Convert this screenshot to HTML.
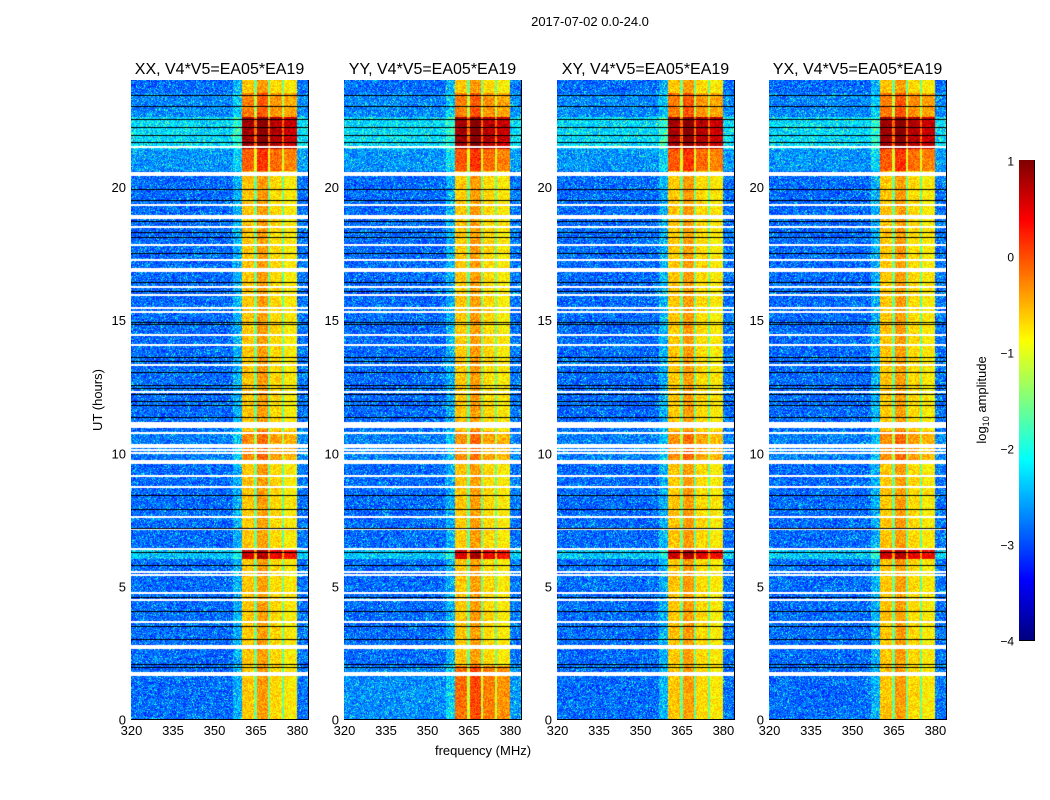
<!DOCTYPE html>
<html><head><meta charset="utf-8">
<style>
body{margin:0;background:#fff;font-family:"Liberation Sans",sans-serif;}
#root{position:relative;width:1050px;height:800px;overflow:hidden;background:#fff;}
.t{position:absolute;font-size:13px;color:#000;white-space:nowrap;}
canvas{position:absolute;}
</style></head><body>
<div id="root">
<div class="t" style="left:0;width:1180px;text-align:center;top:14px;">2017-07-02 0.0-24.0</div>
<svg id="ax" width="1050" height="800" style="position:absolute;left:0;top:0"></svg>
</div>
<script>
// ---- data ----
const panelTitles = ["XX, V4*V5=EA05*EA19","YY, V4*V5=EA05*EA19","XY, V4*V5=EA05*EA19","YX, V4*V5=EA05*EA19"];
const xTicks = [320,335,350,365,380];
const yTicks = [0,5,10,15,20];
const cbTicks = [1,0,-1,-2,-3,-4];
const freqEdges = [320,357,360,365,370,375,380,384];      // frequency segments
const freqLevels = [-2.85,-2.5,-0.6,-0.4,-0.7,-0.8,-2.8]; // log10 amp per segment
const subbandGaps = [365,370,375];
const whiteHours = [21.48,20.47,19.31,18.85,18.48,17.80,17.24,16.86,16.23,15.92,15.44,15.29,14.42,14.05,13.30,12.28,11.12,11.04,10.97,10.74,10.29,10.22,10.10,9.99,9.65,9.13,8.71,7.59,7.14,6.38,5.52,5.41,4.73,4.47,3.64,2.70,1.73,1.65];
const whiteWidths = [0.04,0.12,0.04,0.12,0.04,0.04,0.04,0.12,0.04,0.04,0.04,0.04,0.04,0.04,0.04,0.04,0.04,0.04,0.04,0.04,0.04,0.04,0.04,0.04,0.12,0.04,0.04,0.04,0.04,0.04,0.04,0.04,0.08,0.04,0.04,0.12,0.04,0.04];
const blackHours = [23.40,23.02,22.50,22.20,21.93,21.67,19.87,19.46,18.70,18.29,18.10,17.50,16.38,16.04,14.91,14.80,13.56,13.41,13.0,12.54,12.43,12.17,11.94,11.79,11.31,8.41,7.85,7.17,6.27,5.78,4.58,4.02,3.46,2.97,2.03,1.92];
const hotStart = [22.6,21.4,20.6,9.7,6.0,0];
const hotEnd   = [23.5,22.6,21.4,10.8,6.4,2.0];
const hotBoost = [0.4,1.6,0.6,0.3,1.3,0.0];
const yyLowBoost = 0.5; // YY panel, 0-2 h
// ---- layout ----
const panelX=[131,344,557,769], PW=177, PT=80, PH=639;
const fx=f=>(f-320)*PW/64, hy=h=>PH*(1-h/24);
function jet(t){t=Math.max(0,Math.min(1,t));
 const r=Math.min(1,Math.max(0,Math.min(4*t-1.5,-4*t+4.5)));
 const g=Math.min(1,Math.max(0,Math.min(4*t-0.5,-4*t+3.5)));
 const b=Math.min(1,Math.max(0,Math.min(4*t+0.5,-4*t+2.5)));
 return [r*255|0,g*255|0,b*255|0];}
function hash(a,b,c){let h=(a*374761393+b*668265263+c*2147483647)|0;h=(h^(h>>>13))*1274126177|0;return ((h^(h>>>16))>>>0)/4294967296;}
const root=document.getElementById('root'), svg=document.getElementById('ax');
const NS="http://www.w3.org/2000/svg";
function line(x1,y1,x2,y2,name){const l=document.createElementNS(NS,'line');l.setAttribute('x1',x1);l.setAttribute('y1',y1);l.setAttribute('x2',x2);l.setAttribute('y2',y2);l.setAttribute('stroke','#000');l.setAttribute('stroke-width','1');


svg.appendChild(l);}
function label(txt,x,y,anchor,size,name){const t=document.createElementNS(NS,'text');t.setAttribute('x',x);t.setAttribute('y',y);t.setAttribute('text-anchor',anchor);t.setAttribute('font-size',size);t.setAttribute('font-family','Liberation Sans, sans-serif');t.textContent=txt;


svg.appendChild(t);return t;}
function levelAt(f){for(let i=0;i<freqLevels.length;i++) if(f>=freqEdges[i]&&f<freqEdges[i+1]) return freqLevels[i]; return -2.8;}
panelX.forEach((px,p)=>{
 const cv=document.createElement('canvas');cv.width=PW;cv.height=PH;cv.style.left=px+'px';cv.style.top=PT+'px';
 
 
 root.appendChild(cv);
 const ctx=cv.getContext('2d'),img=ctx.createImageData(PW,PH),d=img.data;
 for(let y=0;y<PH;y++){const h=24*(1-(y+0.5)/PH);
  let boost=0;for(let k=0;k<hotStart.length;k++) if(h>=hotStart[k]&&h<hotEnd[k]) boost+=hotBoost[k];
  if(p===1&&h<2) boost+=yyLowBoost;
  let flag=0;
  whiteHours.forEach((w,i)=>{if(Math.abs(h-w)<whiteWidths[i]/2+0.005) flag=1;});
  blackHours.forEach(b=>{if(Math.abs(h-b)<0.019) flag=2;});
  for(let x=0;x<PW;x++){const f=320+(x+0.5)*64/PW,i=(y*PW+x)*4;
   if(flag){const c=flag===1?255:0;d[i]=d[i+1]=d[i+2]=c;d[i+3]=255;continue;}
   let v=levelAt(f);const inBand=f>=360&&f<380;
   subbandGaps.forEach(g=>{if(Math.abs(f-g)<0.4) v=-1.6;});
   v+= inBand? boost*0.9 : boost*0.35;
   const n=hash(x,y,p);
   v+=(n-0.5)*(inBand?0.6:0.9);
   if(!inBand && n>0.93) v+=0.5;
   const c=jet((v+4)/5);d[i]=c[0];d[i+1]=c[1];d[i+2]=c[2];d[i+3]=255;}}
 ctx.putImageData(img,0,0);
 const r=document.createElementNS(NS,'rect');r.setAttribute('x',px+0.5);r.setAttribute('y',PT+0.5);r.setAttribute('width',PW);r.setAttribute('height',PH);r.setAttribute('fill','none');r.setAttribute('stroke','#000');
 
 
 svg.appendChild(r);
 label(panelTitles[p],px+PW/2,74,'middle',16,'panel-title-'+(p+1));
 xTicks.forEach(t=>{const x=px+fx(t)+0.5;line(x,PT+PH,x,PT+PH-4,'x-tick');line(x,PT,x,PT+4,'x-tick');label(String(t),x,735,'middle',13,'x-tick-label');});
 yTicks.forEach(t=>{const y=PT+hy(t)+0.5;line(px,y,px+4,y,'y-tick');line(px+PW,y,px+PW-4,y,'y-tick');label(String(t),px-5,y+5,'end',13,'y-tick-label');});
});
label('frequency (MHz)',483,755,'middle',13,'x-axis-title');
const yt=label('UT (hours)',0,0,'middle',13,'y-axis-title');yt.setAttribute('transform','translate(102,400) rotate(-90)');
// colorbar
const cb=document.createElement('canvas');cb.width=15;cb.height=480;cb.style.left='1019px';cb.style.top='160px';


root.appendChild(cb);
const cc=cb.getContext('2d');for(let y=0;y<480;y++){const c=jet(1-(y+0.5)/480);cc.fillStyle=`rgb(${c[0]},${c[1]},${c[2]})`;cc.fillRect(0,y,15,1);}
const cr=document.createElementNS(NS,'rect');cr.setAttribute('x',1019.5);cr.setAttribute('y',160.5);cr.setAttribute('width',15);cr.setAttribute('height',480);cr.setAttribute('fill','none');cr.setAttribute('stroke','#000');


svg.appendChild(cr);
cbTicks.forEach(v=>{const y=160+(1-v)*96+0.5;line(1019,y,1023,y,'colorbar-tick');line(1030,y,1034,y,'colorbar-tick');label(String(v).replace('-','\u2212'),1014,y+5,'end',12,'colorbar-tick-label');});
const cl=label('',0,0,'middle',13,'colorbar-label');cl.setAttribute('transform','translate(986,400) rotate(-90)');
cl.innerHTML='log<tspan font-size="9" dy="3">10</tspan><tspan dy="-3"> amplitude</tspan>';
</script>
</body></html>
